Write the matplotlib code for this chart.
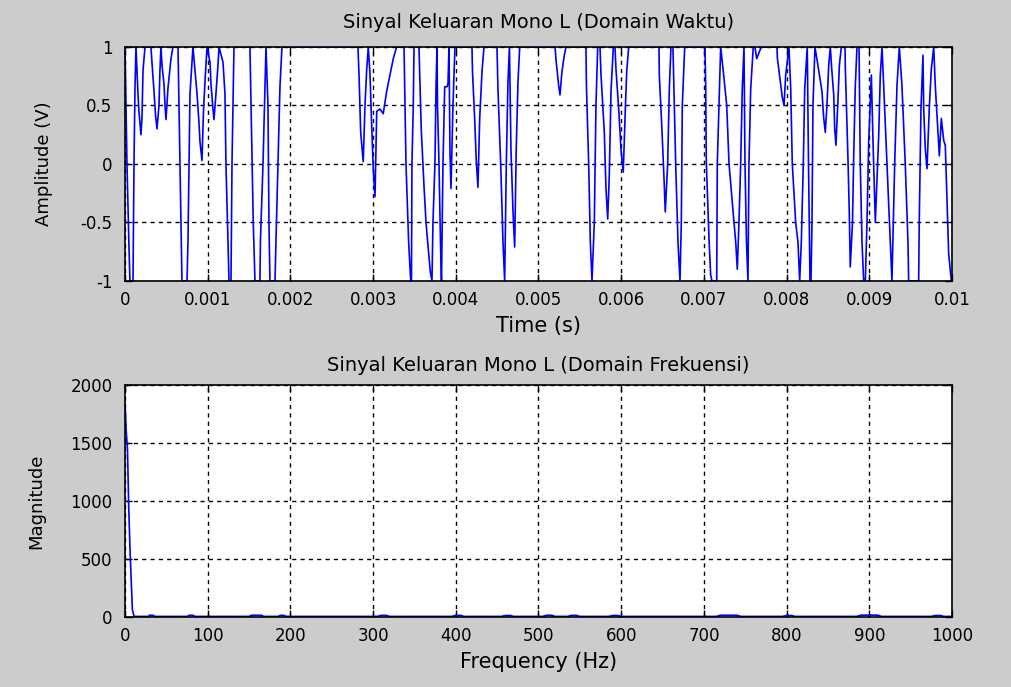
import matplotlib
matplotlib.use('Agg')
import numpy as np
import matplotlib.pyplot as plt

# time domain trace (time in ms, amplitude in V)
time_ms = [0.000, 0.024, 0.048, 0.060, 0.097, 0.109, 0.121, 0.133, 0.145, 0.157,
           0.169, 0.193, 0.206, 0.218, 0.242, 0.314, 0.326, 0.351, 0.369, 0.387,
           0.411, 0.423, 0.435, 0.447, 0.472, 0.484, 0.496, 0.520, 0.556, 0.580,
           0.641, 0.653, 0.665, 0.677, 0.689, 0.750, 0.762, 0.774, 0.786, 0.822,
           0.846, 0.871, 0.895, 0.907, 0.931, 0.949, 0.967, 0.992, 1.028, 1.040,
           1.064, 1.076, 1.100, 1.125, 1.137, 1.185, 1.209, 1.221, 1.239, 1.258,
           1.282, 1.294, 1.306, 1.318, 1.511, 1.524, 1.551, 1.572, 1.632, 1.638,
           1.669, 1.693, 1.705, 1.729, 1.741, 1.753, 1.814, 1.826, 1.850, 1.874,
           1.898, 2.817, 2.830, 2.850, 2.881, 2.902, 2.923, 2.942, 2.963, 2.983,
           3.002, 3.023, 3.044, 3.083, 3.123, 3.164, 3.204, 3.244, 3.285, 3.374,
           3.382, 3.398, 3.430, 3.455, 3.464, 3.470, 3.486, 3.495, 3.555, 3.564,
           3.583, 3.615, 3.640, 3.664, 3.692, 3.712, 3.724, 3.748, 3.761, 3.773,
           3.779, 3.797, 3.815, 3.827, 3.845, 3.866, 3.894, 3.906, 3.918, 3.930,
           3.942, 3.966, 3.990, 4.196, 4.202, 4.228, 4.248, 4.268, 4.289, 4.317,
           4.341, 4.498, 4.510, 4.543, 4.571, 4.591, 4.611, 4.631, 4.649, 4.667,
           4.692, 4.712, 4.731, 4.752, 4.773, 5.200, 5.212, 5.244, 5.260, 5.284,
           5.312, 5.333, 5.574, 5.580, 5.607, 5.627, 5.647, 5.675, 5.695, 5.716,
           5.744, 5.756, 5.796, 5.816, 5.837, 5.856, 5.877, 5.905, 5.925, 5.937,
           5.970, 5.998, 6.025, 6.050, 6.067, 6.091, 6.457, 6.461, 6.493, 6.521,
           6.533, 6.562, 6.582, 6.602, 6.626, 6.638, 6.659, 6.687, 6.711, 6.727,
           6.739, 6.768, 7.013, 7.022, 7.029, 7.062, 7.082, 7.098, 7.155, 7.162,
           7.183, 7.203, 7.235, 7.276, 7.304, 7.352, 7.385, 7.404, 7.424, 7.445,
           7.464, 7.485, 7.497, 7.515, 7.533, 7.545, 7.566, 7.597, 7.618, 7.638,
           7.666, 7.694, 7.884, 7.888, 7.920, 7.948, 7.969, 7.989, 8.029, 8.050,
           8.069, 8.110, 8.138, 8.158, 8.178, 8.202, 8.219, 8.250, 8.265, 8.283,
           8.295, 8.307, 8.319, 8.343, 8.373, 8.428, 8.448, 8.468, 8.488, 8.509,
           8.529, 8.543, 8.570, 8.582, 8.597, 8.622, 8.638, 8.662, 8.706, 8.710,
           8.742, 8.758, 8.770, 8.797, 8.811, 8.831, 8.851, 8.876, 8.891, 8.912,
           8.932, 8.952, 8.972, 8.993, 9.025, 9.045, 9.073, 9.114, 9.133, 9.154,
           9.174, 9.214, 9.254, 9.274, 9.307, 9.335, 9.363, 9.395, 9.435, 9.468,
           9.476, 9.597, 9.604, 9.625, 9.649, 9.658, 9.677, 9.698, 9.725, 9.750,
           9.779, 9.798, 9.831, 9.847, 9.871, 9.900, 9.919, 9.940, 9.960, 9.992,
           10.000]
amplitude = [1, 0.0, -0.7, -1, -1, 0.0, 0.65, 1, 0.8, 0.6,
             0.45, 0.25, 0.4, 0.8, 1, 1, 0.87, 0.62, 0.42, 0.3,
             0.5, 0.8, 1, 0.85, 0.68, 0.5, 0.38, 0.65, 0.9, 1,
             1, 0.5, 0.0, -0.5, -1, -1, -0.65, 0.0, 0.6, 1,
             0.8, 0.6, 0.35, 0.19, 0.03, 0.45, 0.7, 1, 0.87, 0.68,
             0.47, 0.38, 0.6, 0.85, 1, 0.87, 0.6, 0.0, -0.5, -1,
             -1, 0.0, 0.5, 1, 1, 0.5, -0.5, -1, -1, -0.65,
             0.0, 0.66, 1, 0.5, -0.5, -1, -1, -0.65, 0.0, 0.66,
             1, 1, 0.76, 0.27, 0.02, 0.5, 0.81, 1, 0.76, 0.33,
             -0.04, -0.28, 0.45, 0.47, 0.43, 0.62, 0.76, 0.9, 1, 1,
             0.66, 0.0, -0.67, -1, -1, 0.0, 0.5, 1, 1, 0.76,
             0.29, -0.18, -0.5, -0.7, -0.92, -1, -0.5, 0.0, 0.66, 1,
             0.5, 0.0, -0.67, -1, 0.0, 0.66, 0.66, 0.69, 1, 0.09,
             -0.21, 0.5, 1, 1, 0.79, 0.39, 0.02, -0.2, 0.39, 0.79,
             1, 1, 0.64, 0.0, -0.67, -1, 0.0, 0.7, 1, 0.13,
             -0.41, -0.71, 0.13, 0.7, 1, 1, 0.89, 0.67, 0.59, 0.79,
             0.93, 1, 1, 0.66, 0.0, -0.67, -1, -0.5, 0.5, 1,
             1, 0.76, 0.27, -0.21, -0.47, -0.1, 0.62, 1, 1, 0.81,
             0.47, 0.12, -0.07, 0.47, 0.79, 1, 1, 0.76, 0.29, -0.18,
             -0.41, 0.0, 0.64, 1, 1, 0.64, 0.0, -0.67, -1, -0.5,
             0.5, 1, 1, 0.66, 0.02, -0.64, -0.95, -1, -1, 0.0,
             0.5, 1, 0.79, 0.5, 0.0, -0.4, -0.67, -0.9, -0.5, 0.0,
             0.64, 1, 0.0, -0.67, -1, 0.0, 0.64, 1, 1, 0.9,
             0.95, 1, 1, 0.91, 0.73, 0.57, 0.5, 0.76, 1, 0.64,
             0.0, -0.5, -0.67, -1, -0.67, 0.0, 0.64, 1, 0.0, -1,
             -1, -0.5, 0.5, 1, 0.87, 0.62, 0.4, 0.27, 0.5, 0.84,
             1, 0.84, 0.59, 0.3, 0.16, 0.56, 0.84, 1, 1, 0.83,
             0.05, -0.41, -0.88, -0.5, 0.05, 0.67, 1, 1, 0.0, -0.67,
             -1, -1, -0.5, 0.19, 0.76, 0.19, -0.5, 0.25, 0.76, 1,
             0.67, 0.0, -0.67, -1, 0.0, 0.67, 1, 0.67, 0.0, -0.67,
             -1, -1, -0.5, 0.47, 0.93, 0.47, 0.13, -0.04, 0.47, 0.81,
             1, 0.67, 0.27, 0.07, 0.39, 0.2, 0.16, -0.31, -0.77, -1,
             -1]

# frequency domain magnitude
freq_hz = [0, 1.5, 3, 4.5, 6, 7.5, 9, 11, 28, 30, 34, 36, 75, 78, 82, 85,
           150, 153, 165, 168, 185, 188, 192, 195, 305, 310, 316, 320,
           395, 400, 406, 410, 455, 460, 466, 470, 505, 510, 516, 520,
           535, 540, 546, 550, 585, 590, 596, 600, 715, 720, 740, 745,
           795, 800, 806, 810, 885, 890, 910, 915, 975, 980, 986, 990, 1000]
magnitude = [1850, 1600, 1450, 950, 600, 320, 60, 5, 5, 15, 15, 5, 5, 15, 15, 5,
             5, 15, 15, 5, 5, 14, 14, 5, 5, 14, 14, 5,
             5, 14, 14, 5, 5, 13, 13, 5, 5, 15, 15, 5,
             5, 14, 14, 5, 5, 13, 13, 5, 5, 15, 15, 5,
             5, 13, 13, 5, 5, 16, 16, 5, 5, 13, 13, 5, 5]

t = np.array(time_ms) / 1000.0

plt.rcParams['font.family'] = ['DejaVu Sans']
bg = '#cccccc'
fig = plt.figure(figsize=(10.12, 6.87), dpi=100, facecolor=bg)

ax1 = fig.add_axes([0.1235, 0.591, 0.8172, 0.3406])
ax2 = fig.add_axes([0.1235, 0.1019, 0.8172, 0.3377])

grid_kw = dict(color='black', linestyle=(0, (3, 3)), linewidth=1.0)

ax1.plot(t, amplitude, color='#0000ff', linewidth=1.2)
ax1.set_xlim(0, 0.01)
ax1.set_ylim(-1, 1)
ax1.set_xticks(np.arange(0, 0.0101, 0.001))
ax1.set_xticklabels(['0', '0.001', '0.002', '0.003', '0.004', '0.005',
                     '0.006', '0.007', '0.008', '0.009', '0.01'])
ax1.set_yticks([-1, -0.5, 0, 0.5, 1])
ax1.set_yticklabels(['-1', '-0.5', '0', '0.5', '1'])
ax1.set_title('Sinyal Keluaran Mono L (Domain Waktu)', fontsize=14, pad=14)
ax1.set_xlabel('Time (s)', fontsize=15, labelpad=5)
ax1.set_ylabel('Amplitude (V)', fontsize=13, labelpad=20)

ax2.plot(freq_hz, magnitude, color='#0000ff', linewidth=1.2)
ax2.set_xlim(0, 1000)
ax2.set_ylim(0, 2000)
ax2.set_xticks(np.arange(0, 1001, 100))
ax2.set_yticks(np.arange(0, 2001, 500))
ax2.set_title('Sinyal Keluaran Mono L (Domain Frekuensi)', fontsize=14, pad=10)
ax2.set_xlabel('Frequency (Hz)', fontsize=15, labelpad=5)
ax2.set_ylabel('Magnitude', fontsize=13, labelpad=18)

for ax in (ax1, ax2):
    ax.set_facecolor('white')
    ax.grid(True, **grid_kw)
    ax.tick_params(direction='in', length=5, width=1, labelsize=12,
                   top=True, right=True, colors='black')
    ax.tick_params(axis='x', pad=7)
    ax.tick_params(axis='y', pad=9)
    for s in ax.spines.values():
        s.set_color('black')
        s.set_linewidth(1.2)

fig.savefig('out.png', dpi=100, facecolor=bg)
